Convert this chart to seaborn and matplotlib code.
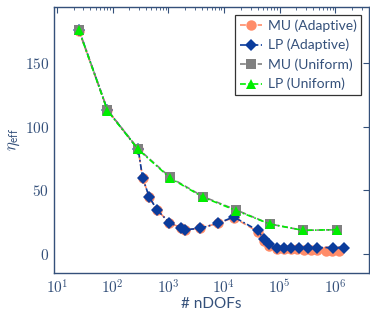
import math

import matplotlib
matplotlib.use("Agg")
import matplotlib.pyplot as plt
import matplotlib.ticker as mticker
import pandas as pd
import seaborn as sns


# uniform refinement
UNI_NDOF = [25, 81, 289, 1089, 4225, 16641, 66049, 263169, 1050625]
MU_UNI = [176, 113, 82.5, 60, 45, 34.5, 23.5, 18.5, 19]
LP_UNI = [175.5, 112.5, 82, 59.5, 44.5, 34, 23.5, 18.5, 19]

# adaptive refinement
LP_AD_NDOF = [25, 81, 289, 347, 458, 630, 1050, 1680, 1960, 3650, 7700, 14960,
              40400, 51800, 63700, 87800, 119000, 161000, 222000, 326000,
              474000, 910000, 1436000]
LP_AD = [176, 113, 82, 59.5, 44.5, 34.5, 24.5, 20.5, 19, 20, 24, 29,
         18.5, 11.5, 7.5, 5, 5, 5, 5, 5, 5, 5, 5]
MU_AD_NDOF = [25, 81, 289, 347, 458, 630, 1050, 1680, 1960, 3650, 7700, 14960,
              40400, 51800, 63700, 89000, 119000, 158000, 204000, 275000,
              363000, 468000, 676000, 871000, 1170000]
MU_AD = [175, 113, 82, 59.5, 44.5, 34.5, 24.5, 20.5, 19, 20, 24, 28.5,
         17.5, 10.5, 6, 4, 4, 3.5, 3.5, 3, 3, 3, 2, 2, 2]

AXIS_BLUE = "#34507a"


def main() -> None:
    sns.set_theme(style="white")
    plt.rcParams["font.family"] = ["Lato", "DejaVu Sans"]
    plt.rcParams["mathtext.fontset"] = "cm"

    fig = plt.figure(figsize=(3.7, 3.12), dpi=100)
    ax = fig.add_axes([0.146, 0.125, 0.851, 0.853])

    serier = [
        ("MU (Adaptive)", MU_AD_NDOF, MU_AD, "#ff8c69", "o", (0, (3.5, 1.8)), 7.5),
        ("LP (Adaptive)", LP_AD_NDOF, LP_AD, "#0b3c9c", "D", (0, (3.5, 1.5, 1, 1.5)), 6),
        ("MU (Uniform)", UNI_NDOF, MU_UNI, "#808080", "s", (0, (3.5, 1.8)), 7.5),
        ("LP (Uniform)", UNI_NDOF, LP_UNI, "#00ee00", "^", (0, (3.5, 1.5, 1, 1.5)), 7.5),
    ]
    for navn, x, y, farge, markør, strek, str_ in serier:
        df = pd.DataFrame({"ndof": x, "eta": y})
        sns.lineplot(data=df, x="ndof", y="eta", ax=ax, color=farge, marker=markør,
                     markersize=str_, markeredgewidth=0, linewidth=1.2,
                     dashes=False, label=navn, sort=False)
        ax.lines[-1].set_linestyle(strek)

    ax.set_xscale("log")
    ax.set_xlim(10 ** 0.95, 10 ** 6.6)
    ax.set_ylim(-15, 194)
    ax.set_yticks([0, 50, 100, 150])
    ax.yaxis.set_major_formatter(mticker.FuncFormatter(lambda v, p: rf"$\mathrm{{{v:.0f}}}$"))
    ax.xaxis.set_major_locator(mticker.LogLocator(base=10, numticks=10))
    ax.xaxis.set_major_formatter(
        mticker.FuncFormatter(lambda v, p: rf"$\mathrm{{10}}^{{{round(math.log10(v))}}}$"))
    ax.xaxis.set_minor_locator(mticker.LogLocator(base=10, subs=range(2, 10), numticks=20))
    ax.xaxis.set_minor_formatter(mticker.NullFormatter())

    for spine in ax.spines.values():
        spine.set_color(AXIS_BLUE)
        spine.set_linewidth(1.0)
    ax.tick_params(axis="both", which="both", direction="in", top=True, right=True,
                   color=AXIS_BLUE, labelcolor=AXIS_BLUE, labelsize=11)
    ax.tick_params(which="major", length=4, width=0.8)
    ax.tick_params(which="minor", length=2.5, width=0.6)
    ax.tick_params(axis="x", pad=4)

    ax.set_xlabel("# nDOFs", color=AXIS_BLUE, fontsize=11, labelpad=0)
    ax.set_ylabel(r"$\eta_{\mathsf{eff}}$", color=AXIS_BLUE, fontsize=12, labelpad=2)

    leg = ax.legend(loc="upper right", fontsize=10, frameon=True, fancybox=False,
                    edgecolor="black", handlelength=1.6, borderpad=0.35,
                    labelspacing=0.5, handletextpad=0.4, borderaxespad=0.55)
    leg.get_frame().set_linewidth(0.9)
    for t in leg.get_texts():
        t.set_color(AXIS_BLUE)

    fig.savefig("out.png", dpi=100)
    plt.close(fig)


if __name__ == "__main__":
    main()
